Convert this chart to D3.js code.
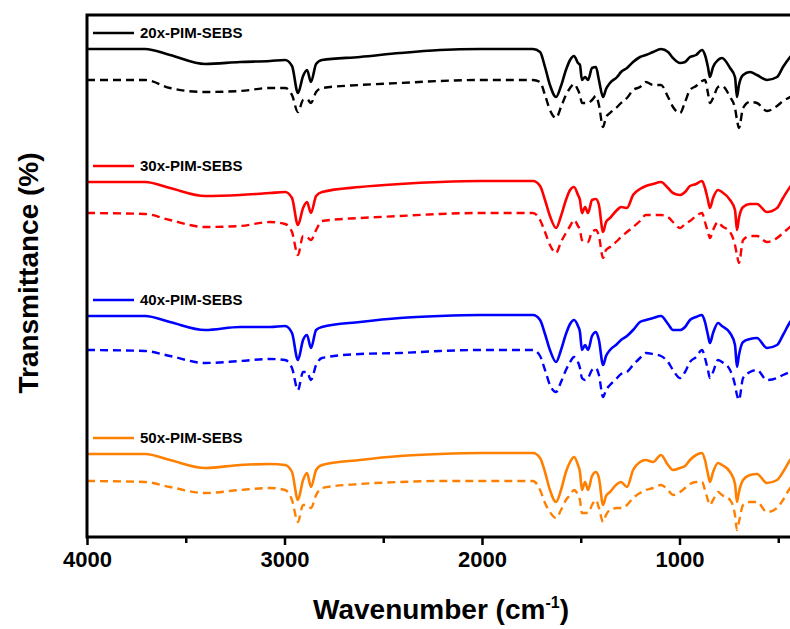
<!DOCTYPE html>
<html>
<head>
<meta charset="utf-8">
<script src="https://cdn.jsdelivr.net/npm/d3@7"></script>
<style>
  body { margin: 0; background: #fff; }
  svg { display: block; font-family: Arial, 'Liberation Sans', sans-serif; }
  .eje text { font-size: 22px; font-weight: bold; }
  .leyenda { font-size: 15px; font-weight: bold; }
  .titulo-eje { font-size: 28px; font-weight: bold; }
</style>
</head>
<body>
<div id="graf"></div>
<script>
wavenumber = [4000, 3706, 3580, 3402, 3225, 3073, 2997, 2962, 2932, 2906, 2886, 2866,
              2840, 2810, 2618, 2415, 2213, 2010, 1742, 1706, 1681, 1656, 1625, 1600,
              1575, 1554, 1534, 1514, 1504, 1494, 1478, 1463, 1443, 1423, 1408, 1387,
              1372, 1352, 1316, 1296, 1266, 1235, 1200, 1170, 1134, 1094, 1058, 1033,
              997, 972, 947, 916, 886, 871, 856, 846, 830, 805, 785, 744,
              719, 709, 699, 678, 643, 608, 557, 506, 476, 440, 405]

t20 = [488, 488, 482, 473, 475, 476, 477, 471, 444, 461, 467, 455,
       473, 477, 480, 484, 487, 488, 488, 485, 470, 452, 440, 451,
       467, 477, 481, 474, 472, 457, 460, 457, 469, 470, 457, 440,
       448, 454, 460, 465, 469, 475, 480, 482, 485, 488, 485, 479,
       474, 475, 480, 482, 487, 482, 470, 460, 470, 477, 479, 469,
       460, 440, 452, 462, 465, 462, 457, 460, 470, 480, 487]
t20b = [457, 457, 449, 445, 446, 449, 449, 442, 425, 437, 438, 434,
        445, 449, 452, 454, 456, 457, 457, 455, 442, 427, 419, 430,
        442, 449, 453, 447, 442, 434, 434, 434, 437, 441, 432, 410,
        420, 424, 430, 434, 439, 447, 450, 455, 452, 452, 440, 430,
        424, 435, 447, 451, 456, 457, 444, 434, 439, 450, 451, 440,
        429, 417, 409, 429, 435, 434, 426, 431, 436, 440, 445]

t30 = [355, 355, 349, 341, 342, 344, 345, 339, 312, 329, 335, 324,
       341, 345, 350, 353, 355, 356, 356, 351, 337, 321, 309, 321,
       337, 347, 350, 342, 337, 324, 330, 324, 337, 338, 332, 305,
       315, 319, 327, 330, 329, 342, 348, 351, 353, 355, 349, 344,
       342, 345, 351, 353, 356, 349, 337, 329, 339, 347, 345, 337,
       327, 307, 319, 330, 333, 333, 325, 329, 339, 350, 357]
t30b = [324, 323, 317, 310, 311, 315, 313, 305, 282, 301, 300, 297,
        307, 316, 319, 321, 323, 324, 324, 317, 305, 292, 284, 295,
        304, 311, 317, 311, 307, 297, 295, 295, 305, 307, 301, 279,
        287, 290, 296, 300, 305, 310, 316, 322, 322, 322, 320, 315,
        309, 313, 316, 321, 324, 315, 305, 299, 307, 315, 311, 305,
        292, 282, 274, 297, 301, 301, 295, 299, 304, 310, 315]

t40 = [221, 221, 215, 207, 210, 210, 211, 204, 177, 197, 202, 189,
       207, 210, 215, 219, 221, 222, 222, 217, 203, 187, 175, 187,
       203, 213, 217, 211, 205, 187, 192, 187, 201, 205, 197, 172,
       181, 187, 193, 197, 201, 207, 215, 217, 219, 221, 213, 207,
       207, 210, 217, 220, 222, 215, 202, 194, 204, 214, 211, 204,
       192, 170, 182, 195, 198, 199, 189, 192, 202, 215, 223]
t40b = [187, 186, 181, 174, 176, 178, 177, 169, 147, 165, 165, 157,
        172, 179, 183, 184, 186, 187, 187, 181, 167, 152, 145, 155,
        167, 175, 180, 175, 169, 159, 157, 159, 167, 169, 162, 140,
        147, 152, 159, 163, 165, 172, 179, 184, 183, 181, 175, 167,
        159, 165, 175, 180, 187, 179, 167, 159, 165, 177, 175, 167,
        152, 142, 137, 159, 165, 167, 157, 159, 162, 165, 167]

t50 = [83, 83, 77, 69, 72, 73, 72, 65, 37, 57, 64, 50,
       67, 72, 77, 81, 83, 84, 84, 79, 65, 47, 35, 47,
       65, 75, 80, 72, 65, 47, 55, 47, 61, 65, 59, 32,
       41, 45, 53, 55, 50, 67, 75, 77, 75, 82, 72, 67,
       69, 71, 77, 82, 84, 77, 63, 55, 65, 74, 72, 65,
       53, 35, 45, 57, 62, 63, 54, 57, 65, 77, 85]
t50b = [56, 55, 50, 44, 47, 49, 47, 37, 15, 32, 32, 29,
        42, 49, 53, 55, 56, 56, 56, 47, 34, 25, 19, 27,
        37, 42, 47, 42, 37, 24, 24, 24, 32, 37, 29, 15,
        22, 27, 29, 29, 32, 39, 44, 47, 49, 52, 47, 42,
        45, 49, 53, 55, 55, 47, 37, 32, 37, 45, 42, 37,
        22, 7, 15, 32, 35, 35, 25, 29, 37, 49, 55]

muestras = ['20x-PIM-SEBS', '30x-PIM-SEBS', '40x-PIM-SEBS', '50x-PIM-SEBS']
continuas = [t20, t30, t40, t50]
discontinuas = [t20b, t30b, t40b, t50b]

ticksMayores = [4000, 3000, 2000, 1000]
ticksMenores = [3500, 2500, 1500, 500]

colores = ['#000000', '#ff0000', '#0000ff', '#ff8000']

// I. Configuración
ancho_total = 790
alto_total = 629

margins = { top: 15, left: 87 }
ancho = 711
alto = 522

svg = d3.select('#graf')
        .append('svg')
        .attr('width', ancho_total)
        .attr('height', alto_total)

g = svg.append('g')
       .attr('transform', `translate(${ margins.left }, ${ margins.top })`)

x = d3.scaleLinear()
      .domain([4000, 400])
      .range([0, ancho])

y = d3.scaleLinear()
      .domain([0, 522])
      .range([alto, 0])

linea = d3.line()
          .x(d => x(d[0]))
          .y(d => y(d[1]))
          .curve(d3.curveMonotoneX)

// II. Curvas
muestras.forEach((m, i) => {
  solida = d3.zip(wavenumber, continuas[i])
  punteada = d3.zip(wavenumber, discontinuas[i])

  g.append('path')
   .datum(punteada)
   .attr('d', linea)
   .attr('fill', 'none')
   .attr('stroke', colores[i])
   .attr('stroke-width', 2.4)
   .attr('stroke-dasharray', '8,5')

  g.append('path')
   .datum(solida)
   .attr('d', linea)
   .attr('fill', 'none')
   .attr('stroke', colores[i])
   .attr('stroke-width', 2.6)
   .attr('stroke-linejoin', 'round')

  ly = y(continuas[i][0]) - 16

  g.append('line')
   .attr('x1', 6)
   .attr('x2', 47)
   .attr('y1', ly)
   .attr('y2', ly)
   .attr('stroke', colores[i])
   .attr('stroke-width', 2.5)

  g.append('text')
   .attr('class', 'leyenda')
   .attr('x', 53)
   .attr('y', ly + 5)
   .text(m)
})

// III. Ejes y marco
xAxisGroup = g.append('g')
              .attr('class', 'eje')
              .attr('transform', `translate(0, ${ alto })`)
              .call(d3.axisBottom(x)
                      .tickValues(ticksMayores)
                      .tickSize(8)
                      .tickPadding(6)
                      .tickFormat(d3.format('d')))

xAxisGroup.select('.domain').remove()
xAxisGroup.selectAll('line').attr('stroke-width', 2.5)

minorGroup = g.append('g')
              .attr('transform', `translate(0, ${ alto })`)
              .call(d3.axisBottom(x)
                      .tickValues(ticksMenores)
                      .tickSize(6)
                      .tickFormat(''))
minorGroup.select('.domain').remove()
minorGroup.selectAll('line').attr('stroke-width', 2.5)

g.append('rect')
 .attr('x', 0)
 .attr('y', 0)
 .attr('width', ancho)
 .attr('height', alto)
 .attr('fill', 'none')
 .attr('stroke', '#000')
 .attr('stroke-width', 3)

xTitulo = svg.append('text')
             .attr('class', 'titulo-eje')
             .attr('x', 441)
             .attr('y', 619)
             .attr('text-anchor', 'middle')
xTitulo.append('tspan').text('Wavenumber (cm')
xTitulo.append('tspan').attr('dy', -11).attr('font-size', '16px').text('-1')
xTitulo.append('tspan').attr('dy', 11).text(')')

svg.append('text')
   .attr('class', 'titulo-eje')
   .attr('transform', `translate(38, 273) rotate(-90)`)
   .attr('text-anchor', 'middle')
   .text('Transmittance (%)')
</script>
</body>
</html>
